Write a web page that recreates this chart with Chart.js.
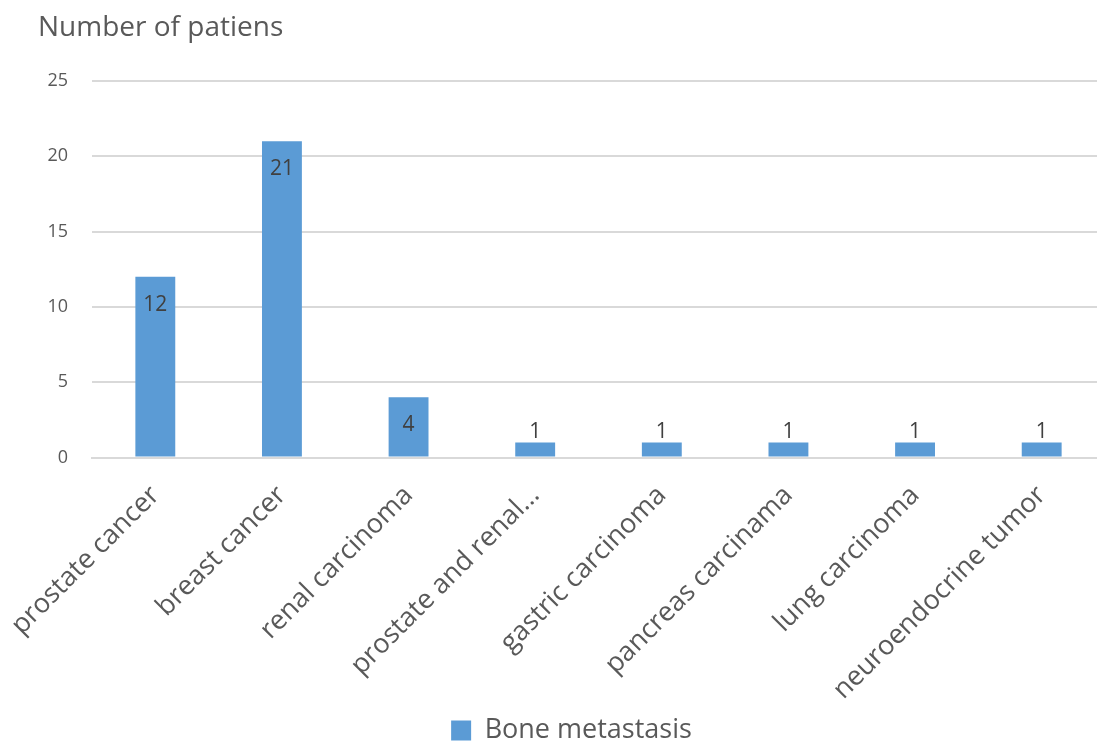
<!DOCTYPE html>
<html>
<head>
<meta charset="utf-8">
<script src="https://cdn.jsdelivr.net/npm/chart.js@4"></script>
<style>
  html, body { margin: 0; padding: 0; background: #ffffff; overflow: hidden; }
  #wrap { width: 1097px; height: 745px; overflow: hidden; }
  #c { display: block; }
</style>
</head>
<body>
<div id="wrap"><canvas id="c" width="1105" height="745"></canvas></div>
<script>
// Categories and counts of patients with bone metastasis
const categories = [
  'prostate cancer', 'breast cancer', 'renal carcinoma', 'prostate and renal\u2026',
  'gastric carcinoma', 'pancreas carcinama', 'lung carcinoma', 'neuroendocrine tumor'
];
const boneMetastasis = [12, 21, 4, 1, 1, 1, 1, 1];
const yTicks = [0, 5, 10, 15, 20, 25];

const FONT = '"Open Sans", sans-serif';
const TEXT = '#595959';

// Value labels: inside the top of tall bars, above short ones
const valueLabels = {
  id: 'valueLabels',
  afterDatasetsDraw(chart) {
    const ctx = chart.ctx;
    const meta = chart.getDatasetMeta(0);
    const data = chart.data.datasets[0].data;
    ctx.save();
    ctx.font = '21px ' + FONT;
    ctx.fillStyle = '#404040';
    ctx.textAlign = 'center';
    ctx.textBaseline = 'middle';
    meta.data.forEach((bar, i) => {
      const h = bar.base - bar.y;
      const y = h > 40 ? bar.y + 28 : bar.y - 10;
      ctx.fillText(String(data[i]), bar.x, y);
    });
    ctx.restore();
  }
};

// Sit the legend a little lower, closer to the bottom edge
const legendOffset = {
  id: 'legendOffset',
  afterLayout(chart) {
    if (chart.legend) {
      chart.legend.top += 9;
      chart.legend.bottom += 9;
    }
  }
};

new Chart(document.getElementById('c'), {
  type: 'bar',
  data: {
    labels: categories,
    datasets: [{
      label: 'Bone metastasis',
      data: boneMetastasis,
      backgroundColor: '#5b9bd5',
      borderWidth: 0,
      barPercentage: 0.63,
      categoryPercentage: 0.5
    }]
  },
  options: {
    responsive: false,
    animation: false,
    layout: { padding: { left: 38, right: 0, top: 0, bottom: 0 } },
    plugins: {
      title: {
        display: true,
        text: 'Number of patiens',
        align: 'start',
        color: TEXT,
        font: { family: FONT, size: 28, weight: 'normal', lineHeight: 1.2 },
        padding: { top: 11, bottom: 36.4 }
      },
      legend: {
        position: 'bottom',
        labels: {
          color: TEXT,
          font: { family: FONT, size: 27 },
          boxWidth: 20,
          boxHeight: 20,
          padding: 0
        }
      },
      tooltip: { enabled: false }
    },
    scales: {
      x: {
        grid: { display: false },
        border: { color: '#d9d9d9', width: 2 },
        afterFit(scale) {
          scale.height = 250.5;
          scale.paddingLeft = 0;
          scale.paddingRight = 0;
        },
        ticks: {
          color: TEXT,
          font: { family: FONT, size: 27 },
          maxRotation: 45,
          minRotation: 45,
          autoSkip: false,
          padding: 14
        }
      },
      y: {
        min: 0,
        max: 25,
        afterBuildTicks(scale) { scale.ticks = yTicks.map(v => ({ value: v })); },
        afterFit(scale) {
          scale.width = 54;
          scale.paddingTop = 0;
          scale.paddingBottom = 0;
        },
        grid: { color: '#d9d9d9', lineWidth: 2, drawTicks: false },
        border: { display: false },
        ticks: {
          color: TEXT,
          font: { family: FONT, size: 18 },
          padding: 24
        }
      }
    }
  },
  plugins: [valueLabels, legendOffset]
});
</script>
</body>
</html>
